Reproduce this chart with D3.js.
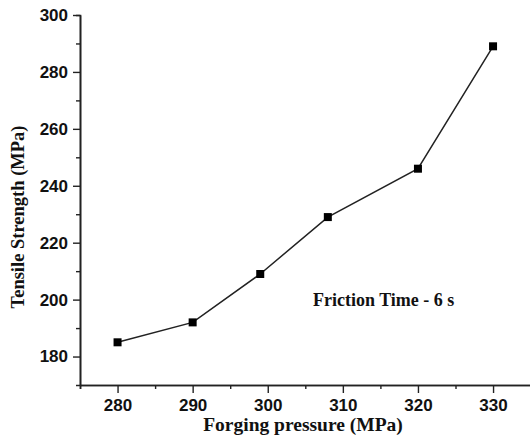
<!DOCTYPE html>
<html>
<head>
<meta charset="utf-8">
<script src="https://cdn.jsdelivr.net/npm/d3@7"></script>
<style>
  body { margin: 0; background: #fff; }
  .tick text { font-family: "Liberation Sans", Arial, sans-serif; font-weight: bold; font-size: 17px; fill: #111; }
  .title { font-family: "Liberation Serif", "Times New Roman", serif; font-weight: bold; font-size: 18px; fill: #111; }
</style>
</head>
<body>
<div id="chart"></div>
<script>
// forging pressure (MPa) vs tensile strength (MPa)
const pressure = [280, 290, 299, 308, 320, 330];
const strength = [185, 192, 209, 229, 246, 289];
const xMajor = [280, 290, 300, 310, 320, 330];
const xMinor = [275, 285, 295, 305, 315, 325, 335];
const yMajor = [180, 200, 220, 240, 260, 280, 300];
const yMinor = [190, 210, 230, 250, 270, 290];

const width = 530, height = 438;
const svg = d3.select("#chart").append("svg")
    .attr("width", width)
    .attr("height", height);

const x = d3.scaleLinear().domain([275, 335]).range([80, 530.6]);
const y = d3.scaleLinear().domain([170, 300]).range([385, 15]);

function styleAxis(g) {
    g.select(".domain").attr("stroke", "#222").attr("stroke-width", 1.6);
    g.selectAll(".tick line").attr("stroke", "#222").attr("stroke-width", 1.4);
}

// minor ticks first
svg.append("g")
    .attr("transform", "translate(0,385)")
    .call(d3.axisBottom(x).tickValues(xMinor).tickSize(4).tickFormat(""))
    .call(styleAxis);
svg.append("g")
    .attr("transform", "translate(80,0)")
    .call(d3.axisLeft(y).tickValues(yMinor).tickSize(4).tickFormat(""))
    .call(styleAxis);

svg.append("g")
    .attr("transform", "translate(0,385)")
    .call(d3.axisBottom(x).tickValues(xMajor).tickSize(8).tickSizeOuter(0).tickPadding(6))
    .call(styleAxis);

svg.append("g")
    .attr("transform", "translate(80,0)")
    .call(d3.axisLeft(y).tickValues(yMajor).tickSize(7).tickSizeOuter(0).tickPadding(5))
    .call(styleAxis);

const data = pressure.map((p, i) => ({p: p, s: strength[i]}));

svg.append("path")
    .datum(data)
    .attr("fill", "none")
    .attr("stroke", "#222")
    .attr("stroke-width", 1.5)
    .attr("d", d3.line().x(d => x(d.p)).y(d => y(d.s)));

svg.selectAll(".pt")
    .data(data)
    .enter().append("rect")
    .attr("class", "pt")
    .attr("x", d => x(d.p) - 4)
    .attr("y", d => y(d.s) - 4)
    .attr("width", 8)
    .attr("height", 8)
    .attr("fill", "#000");

svg.append("text")
    .attr("class", "title")
    .attr("x", 303)
    .attr("y", 431)
    .attr("text-anchor", "middle")
    .style("font-size", "19.5px")
    .text("Forging pressure (MPa)");

svg.append("text")
    .attr("class", "title")
    .attr("transform", "translate(24,217) rotate(-90)")
    .attr("text-anchor", "middle")
    .style("font-size", "18.5px")
    .text("Tensile Strength (MPa)");

svg.append("text")
    .attr("class", "title")
    .attr("x", 313)
    .attr("y", 306)
    .text("Friction Time - 6 s");
</script>
</body>
</html>
